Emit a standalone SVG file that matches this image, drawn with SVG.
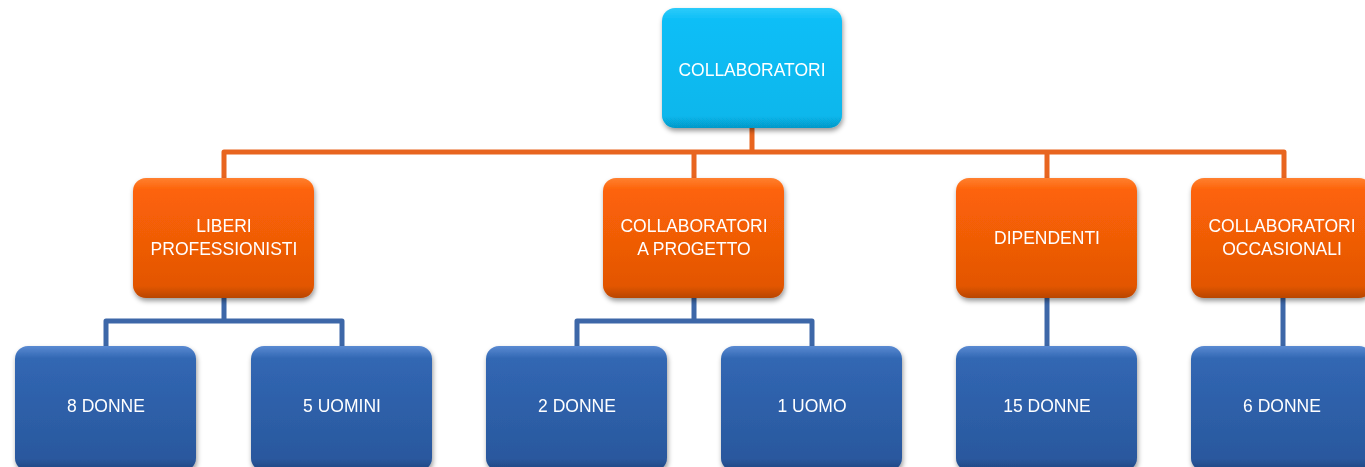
<svg xmlns="http://www.w3.org/2000/svg" width="1365" height="467" viewBox="0 0 1365 467">
<style>
.t{font-family:"Liberation Sans",Arial,sans-serif;font-size:17.5px;fill:#fff;text-anchor:middle}
.oc{stroke:#E8651F;stroke-width:5;fill:none;stroke-linejoin:round}
.bc{stroke:#3D67A8;stroke-width:5;fill:none;stroke-linejoin:round}
.cy{fill:url(#gc)}
.or{fill:url(#go)}
.bl{fill:url(#gb)}
</style>
<defs>
<linearGradient id="gc" x1="0" y1="0" x2="0" y2="1"><stop offset="0" stop-color="#2CCBFA"/><stop offset="0.1" stop-color="#0DBEF7"/><stop offset="0.9" stop-color="#07B7EC"/><stop offset="1" stop-color="#0698C8"/></linearGradient>
<linearGradient id="go" x1="0" y1="0" x2="0" y2="1"><stop offset="0" stop-color="#FF8030"/><stop offset="0.1" stop-color="#FD6308"/><stop offset="0.9" stop-color="#E35604"/><stop offset="1" stop-color="#B84502"/></linearGradient>
<linearGradient id="gb" x1="0" y1="0" x2="0" y2="1"><stop offset="0" stop-color="#5A8AD2"/><stop offset="0.1" stop-color="#3167B3"/><stop offset="0.9" stop-color="#2A589E"/><stop offset="1" stop-color="#1F4680"/></linearGradient>
<filter id="sh" x="-10%" y="-10%" width="125%" height="130%"><feDropShadow dx="1" dy="3" stdDeviation="2.5" flood-color="#000" flood-opacity="0.4"/></filter>
</defs>
<g id="connectors">
<path class="oc" d="M752 128V152M224 178V152H1284V178M694 152V178M1047 152V178"/>
<path class="bc" d="M224 298V321M106 346V321H342V346"/>
<path class="bc" d="M694 298V321M577 346V321H812V346"/>
<path class="bc" d="M1047 298V346"/>
<path class="bc" d="M1283 298V346"/>
</g>
<g id="n-collaboratori" filter="url(#sh)"><rect class="cy" x="662" y="8" width="180" height="120" rx="13"/><text class="t" x="752" y="76">COLLABORATORI</text></g>
<g id="n-liberi" filter="url(#sh)"><rect class="or" x="133" y="178" width="181" height="120" rx="13"/><text class="t" x="224" y="232">LIBERI</text><text class="t" x="224" y="255">PROFESSIONISTI</text></g>
<g id="n-progetto" filter="url(#sh)"><rect class="or" x="603" y="178" width="181" height="120" rx="13"/><text class="t" x="694" y="232">COLLABORATORI</text><text class="t" x="694" y="255">A PROGETTO</text></g>
<g id="n-dipendenti" filter="url(#sh)"><rect class="or" x="956" y="178" width="181" height="120" rx="13"/><text class="t" x="1047" y="244">DIPENDENTI</text></g>
<g id="n-occasionali" filter="url(#sh)"><rect class="or" x="1191" y="178" width="181" height="120" rx="13"/><text class="t" x="1282" y="232">COLLABORATORI</text><text class="t" x="1282" y="255">OCCASIONALI</text></g>
<g id="n-8donne" filter="url(#sh)"><rect class="bl" x="15" y="346" width="181" height="125" rx="13"/><text class="t" x="106" y="412">8 DONNE</text></g>
<g id="n-5uomini" filter="url(#sh)"><rect class="bl" x="251" y="346" width="181" height="125" rx="13"/><text class="t" x="342" y="412">5 UOMINI</text></g>
<g id="n-2donne" filter="url(#sh)"><rect class="bl" x="486" y="346" width="181" height="125" rx="13"/><text class="t" x="577" y="412">2 DONNE</text></g>
<g id="n-1uomo" filter="url(#sh)"><rect class="bl" x="721" y="346" width="181" height="125" rx="13"/><text class="t" x="812" y="412">1 UOMO</text></g>
<g id="n-15donne" filter="url(#sh)"><rect class="bl" x="956" y="346" width="181" height="125" rx="13"/><text class="t" x="1047" y="412">15 DONNE</text></g>
<g id="n-6donne" filter="url(#sh)"><rect class="bl" x="1191" y="346" width="181" height="125" rx="13"/><text class="t" x="1282" y="412">6 DONNE</text></g>
</svg>
